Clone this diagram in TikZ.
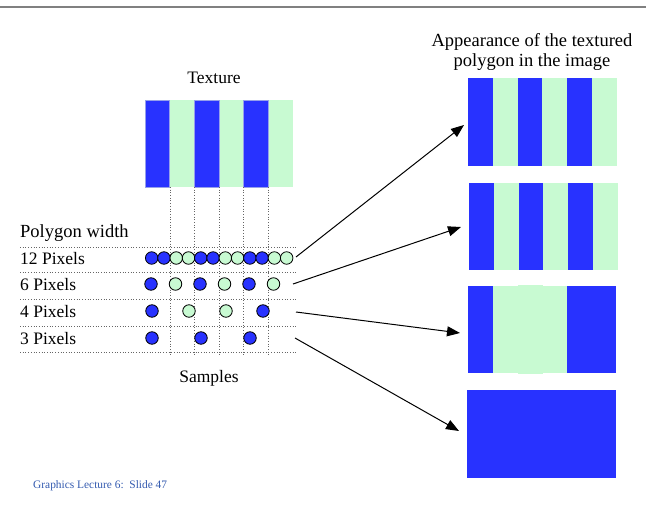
\documentclass[tikz,border=0pt]{standalone}
\usepackage{fontspec}
\setmainfont{Liberation Serif}
\usetikzlibrary{arrows.meta}
\definecolor{tblue}{RGB}{40,50,255}
\definecolor{tgreen}{RGB}{200,250,210}
\definecolor{tedge}{RGB}{150,160,235}
\definecolor{footblue}{RGB}{51,90,175}
\tikzset{
  lbl/.style={inner sep=0pt, font=\fontsize{17.5}{20}\selectfont},
  rowlbl/.style={lbl, anchor=west},
  bdot/.style={circle, fill=tblue, draw=black, line width=0.8pt, minimum size=12.5pt, inner sep=0pt},
  gdot/.style={circle, fill=tgreen, draw=black, line width=0.8pt, minimum size=12.5pt, inner sep=0pt},
  guide/.style={draw=gray!80!black, dotted, line width=0.7pt},
  arr/.style={draw=black, line width=1pt, -{Triangle[length=13pt,width=10pt]}}
}
\begin{document}
\begin{tikzpicture}[x=1pt,y=-1pt]
\useasboundingbox (0,0) rectangle (646,508);
% top rule
\draw[gray, line width=2pt] (0,7) -- (646,7);

% texture
\foreach \i in {0,...,5} {
  \pgfmathsetmacro{\xa}{145+24.67*\i}
  \pgfmathsetmacro{\xb}{145+24.67*(\i+1)}
  \ifodd\i
    \fill[tgreen] (\xa,100) rectangle (\xb,187);
  \else
    \fill[tblue] (\xa,100) rectangle (\xb,187);
  \fi
}
\foreach \i in {0,2,4} {
  \pgfmathsetmacro{\xa}{145+24.67*\i}
  \pgfmathsetmacro{\xb}{145+24.67*(\i+1)}
  \draw[tedge, line width=0.6pt] (\xa,100) rectangle (\xb,187);
}

% guide lines
\foreach \x in {170,194.3,219,243.7,268.3}
  \draw[guide] (\x,187) -- (\x,356);
\foreach \y in {247,272,299,326,352}
  \draw[guide] (20,\y) -- (297,\y);

% labels
\node[lbl, font=\fontsize{18.5}{21}\selectfont] (appear) at (532,52) {\shortstack{Appearance of the textured\\[1pt]polygon in the image}};
\node[lbl] (texture) at (214,78) {Texture};
\node[lbl] (samples) at (209,378) {Samples};
\node[rowlbl, font=\fontsize{18.5}{21}\selectfont] (pw) at (20,233) {Polygon width};
\node[rowlbl] (r12) at (20,259) {12 Pixels};
\node[rowlbl] (r6) at (20,285) {6 Pixels};
\node[rowlbl] (r4) at (20,312) {4 Pixels};
\node[rowlbl] (r3) at (20,339) {3 Pixels};
\node[inner sep=0pt, anchor=west, text=footblue, font=\fontsize{11.4}{13}\selectfont] (foot) at (33,486) {Graphics Lecture 6:\ \ Slide 47};

% sample dots, 12 pixels
\foreach \c [count=\k from 0] in {b,b,g,g,b,b,g,g,b,b,g,g} {
  \pgfmathsetmacro{\xx}{151.7+12.27*\k}
  \node[\c dot] (d12-\k) at (\xx,258) {};
}
% 6 pixels
\foreach \c [count=\k from 0] in {b,g,b,g,b,g} {
  \pgfmathsetmacro{\xx}{151+24.5*\k}
  \node[\c dot] (d6-\k) at (\xx,284) {};
}
% 4 pixels
\foreach \c [count=\k from 0] in {b,g,g,b} {
  \pgfmathsetmacro{\xx}{152+37*\k}
  \node[\c dot] (d4-\k) at (\xx,311) {};
}
% 3 pixels
\foreach \c [count=\k from 0] in {b,b,b} {
  \pgfmathsetmacro{\xx}{152+49*\k}
  \node[\c dot] (d3-\k) at (\xx,338) {};
}

% image 1
\foreach \i in {0,...,5} {
  \pgfmathsetmacro{\xa}{468+24.83*\i}
  \pgfmathsetmacro{\xb}{468+24.83*(\i+1)}
  \ifodd\i
    \fill[tgreen] (\xa,78) rectangle (\xb,166);
  \else
    \fill[tblue] (\xa,78) rectangle (\xb,166);
  \fi
}
% image 2
\foreach \i in {0,...,5} {
  \pgfmathsetmacro{\xa}{469+24.83*\i}
  \pgfmathsetmacro{\xb}{469+24.83*(\i+1)}
  \ifodd\i
    \fill[tgreen] (\xa,183) rectangle (\xb,270);
  \else
    \fill[tblue] (\xa,183) rectangle (\xb,270);
  \fi
}
% image 3
\fill[tblue] (468,286) rectangle (493,373);
\fill[tgreen] (493,286) rectangle (567,373);
\fill[tgreen] (518,285) rectangle (543,374);
\fill[tblue] (567,286) rectangle (616,373);
% image 4
\fill[tblue] (467,390) rectangle (616,478);

% arrows
\coordinate (a1s) at (296,257);
\coordinate (a1e) at (464,125);
\coordinate (a2s) at (293,284);
\coordinate (a2e) at (461,227);
\coordinate (a3s) at (296,312);
\coordinate (a3e) at (460,333);
\coordinate (a4s) at (295,338);
\coordinate (a4e) at (459,431);
\draw[arr] (a1s) -- (a1e);
\draw[arr] (a2s) -- (a2e);
\draw[arr] (a3s) -- (a3e);
\draw[arr] (a4s) -- (a4e);
\end{tikzpicture}
\end{document}
